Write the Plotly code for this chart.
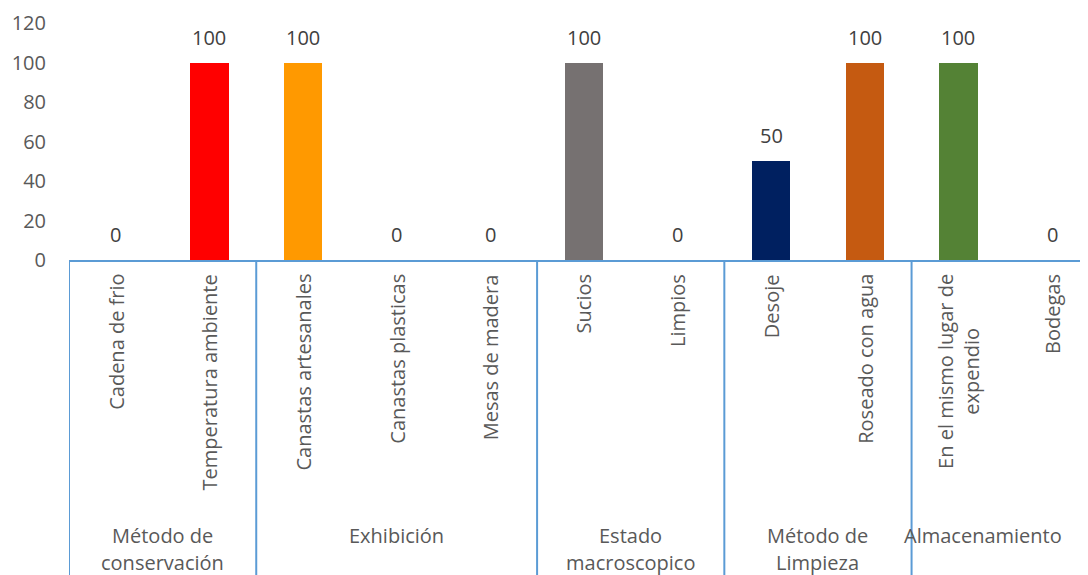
import plotly.graph_objects as go

categories = ["Cadena de frio", "Temperatura ambiente", "Canastas artesanales",
              "Canastas plasticas", "Mesas de madera", "Sucios", "Limpios",
              "Desoje", "Roseado con agua", "En el mismo lugar de<br>expendio", "Bodegas"]
values = [0, 100, 100, 0, 0, 100, 0, 50, 100, 100, 0]
bar_colors = ["#FF0000", "#FF0000", "#FF9900", "#FF9900", "#FF9900", "#767171",
              "#767171", "#002060", "#C55A11", "#548235", "#548235"]
groups = ["Método de<br>conservación", "Exhibición", "Estado<br>macroscopico",
          "Método de<br>Limpieza", "Almacenamiento"]
group_sizes = [2, 3, 2, 2, 2]
y_ticks = [0, 20, 40, 60, 80, 100, 120]

FONT = "Open Sans"
FS = 20
AXIS_BLUE = "#5B9BD5"
# page body has an 8px margin, so the figure starts at (8, 8)
W, H = 1088, 575
ML, MT, MB = 61, 15, 323
plot_h = H - MT - MB
plot_bottom = H - MB  # in figure pixels

x_idx = list(range(len(categories)))

fig = go.Figure()
fig.add_trace(go.Bar(
    x=x_idx, y=values, width=0.41,
    marker=dict(color=bar_colors, line=dict(width=0)),
    hoverinfo="x+y",
))

shapes = []
annotations = []
# data labels
for i, v in enumerate(values):
    annotations.append(dict(
        x=i, xref="x", y=v, yref="y", text=str(v), showarrow=False,
        xanchor="center", yanchor="bottom", yshift=10,
        font=dict(family=FONT, size=FS, color="#404040"),
    ))
# category labels
for i, c in enumerate(categories):
    annotations.append(dict(
        x=i, xref="x", y=-12 / plot_h, yref="paper", text=c, showarrow=False,
        textangle=-90, xanchor="center", yanchor="top", align="center",
        font=dict(family=FONT, size=FS, color="#595959"),
    ))
# group dividers and labels
start = 0
bottom = -(H - MT - plot_h) / plot_h
line_y = [527, 555]  # figure-pixel centres of the group label lines
for gi, (g, n) in enumerate(zip(groups, group_sizes)):
    shapes.append(dict(type="line", xref="x", yref="paper",
                       x0=start - 0.5, x1=start - 0.5, y0=0, y1=bottom,
                       line=dict(color=AXIS_BLUE, width=2)))
    center = start + (n - 1) / 2
    for li, part in enumerate(g.split("<br>")):
        annotations.append(dict(
            x=center, xref="x", y=-(line_y[li] - plot_bottom) / plot_h, yref="paper",
            text=part, showarrow=False, xanchor="center", yanchor="middle",
            xshift=-22 if gi == len(groups) - 1 else 0,
            font=dict(family=FONT, size=FS, color="#595959"),
        ))
    start += n
shapes.append(dict(type="line", xref="x", yref="paper",
                   x0=start - 0.5, x1=start - 0.5, y0=0, y1=bottom,
                   line=dict(color=AXIS_BLUE, width=2)))

fig.update_layout(
    width=W, height=H,
    margin=dict(l=ML, r=0, t=MT, b=MB, pad=0),
    paper_bgcolor="white", plot_bgcolor="white",
    showlegend=False, bargap=0,
    shapes=shapes, annotations=annotations,
    xaxis=dict(range=[-0.5, 10.47], showticklabels=False, showgrid=False,
               zeroline=False, showline=True, linecolor=AXIS_BLUE, linewidth=2,
               ticks=""),
    yaxis=dict(range=[0, 120], tickvals=y_ticks, showgrid=False, zeroline=False,
               showline=False, ticks="outside", ticklen=18,
               tickcolor="rgba(0,0,0,0)",
               tickfont=dict(family=FONT, size=FS, color="#595959")),
)

fig.write_html("out.html")
